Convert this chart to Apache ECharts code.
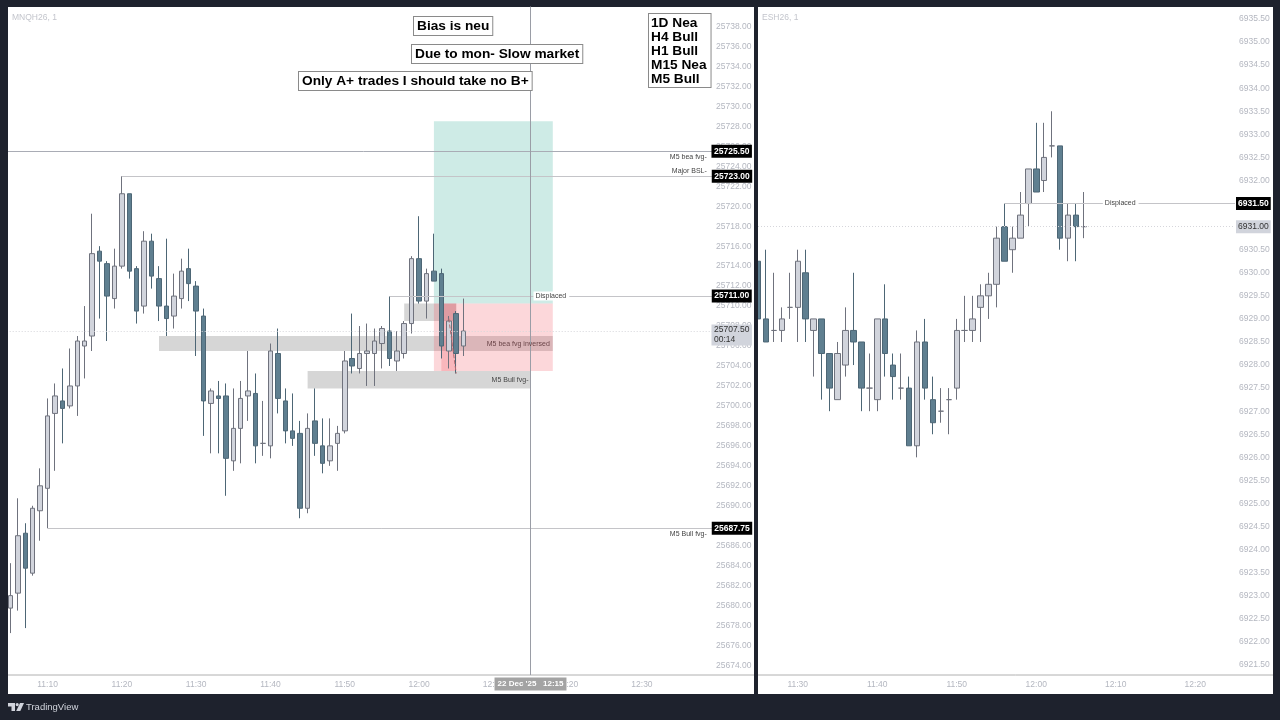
<!DOCTYPE html>
<html><head><meta charset="utf-8">
<style>html,body{margin:0;padding:0;background:#1e222d}#c{width:1280px;height:720px}</style>
<script src="https://cdn.jsdelivr.net/npm/echarts@6/dist/echarts.min.js"></script>
</head><body><div id="c"></div>
<script>
// MNQH26, 1 minute, from 11:05
const mnqOpen=[25679.75,25681.25,25687.25,25683.25,25689.5,25691.75,25699.25,25700.5,25700,25702,25706,25707,25715.5,25714.25,25710.75,25714,25721.25,25713.75,25710,25716.5,25712.75,25710,25709,25710.75,25713.75,25712,25709,25700.25,25701,25701,25694.5,25697.75,25701,25701.25,25696.25,25696,25705.25,25700.5,25697.5,25697.25,25689.75,25698.5,25696,25694.5,25696.25,25697.5,25704.75,25703.75,25705.25,25705.25,25706.25,25707.5,25704.5,25705.25,25708.25,25714.75,25710.5,25713.5,25713.25,25705.5,25709.25,25706];
const mnqClose=[25681,25687,25683.75,25689.75,25692,25699,25701,25699.75,25702,25706.5,25706.5,25715.25,25714.5,25711,25714,25721.25,25713.5,25709.5,25716.5,25713,25710,25708.75,25711,25713.5,25712.25,25709.5,25700.5,25701.5,25700.75,25694.75,25697.75,25700.75,25701.5,25696,25696.25,25705.5,25700.75,25697.5,25696.75,25689.75,25697.75,25696.25,25694.25,25696,25697.25,25704.5,25704,25705.25,25705.5,25706.5,25707.75,25704.75,25705.5,25708.25,25714.75,25710.5,25713.25,25712.5,25706,25708.5,25705.25,25707.5];
const mnqLow=[25677.25,25679.5,25677.75,25683,25686.5,25687.75,25693.5,25696.25,25699.75,25699,25702.75,25705.5,25708.75,25706.5,25709.75,25713.75,25712.75,25708.25,25709.25,25711.75,25708.5,25707,25707.75,25709.75,25710.5,25705,25697,25695.25,25695.25,25691,25693.5,25694.25,25698.5,25694.25,25695,25694.75,25699.25,25696.25,25696,25688.75,25689.25,25695,25693.25,25694,25693.5,25697.25,25703.25,25703.25,25702,25702,25703.75,25704,25703.5,25704.75,25707.25,25710.25,25708.75,25712.5,25704.75,25703.75,25703.25,25705];
const mnqHigh=[25684.25,25690.75,25688.25,25690,25693.75,25700.75,25702.25,25703.75,25705.75,25707,25710,25719.25,25716,25714.5,25715.75,25723,25721.25,25714,25717.5,25717.25,25714,25716.75,25713.25,25714.75,25715.75,25712.5,25709.75,25701.75,25702.5,25702.25,25701.75,25702.5,25705.5,25703.25,25700.5,25706.25,25707.75,25701.75,25701.25,25698.5,25699.25,25701.75,25698.75,25698.75,25698,25705.5,25709.25,25708,25708.25,25707.75,25708,25711,25707.5,25708.5,25715,25719,25713.75,25717.25,25713.75,25709,25709.5,25710.75];
// ESH26, 1 minute, from 11:25
const esOpen=[6930.25,6929,6928.75,6928.75,6929.25,6929.25,6930,6928.75,6929,6928.25,6927.25,6928,6928.75,6928.5,6927.5,6927.25,6929,6928,6927.5,6927.5,6926.25,6928.5,6927.25,6927,6927.25,6927.5,6928.75,6928.75,6929.25,6929.5,6929.75,6931,6930.5,6930.75,6931.5,6932.25,6932,6932.75,6932.75,6930.75,6931.25,6931];
const esClose=[6929,6928.5,6928.75,6929,6929.25,6930.25,6929,6929,6928.25,6927.5,6928.25,6928.75,6928.5,6927.5,6927.5,6929,6928.25,6927.75,6927.5,6926.25,6928.5,6927.5,6926.75,6927,6927.25,6928.75,6928.75,6929,6929.5,6929.75,6930.75,6930.25,6930.75,6931.25,6932.25,6931.75,6932.5,6932.75,6930.75,6931.25,6931,6931];
const esLow=[6928.5,6928.5,6928.5,6928.5,6929,6928.5,6928.5,6927.75,6927.25,6927,6927.25,6927.75,6928,6927,6927,6927,6927.75,6927.25,6927.25,6926.25,6926,6927.25,6926.5,6926.75,6926.5,6927.25,6928.5,6928.5,6928.5,6929,6929.25,6930.25,6930,6930.75,6931,6931.75,6931.75,6932.5,6930.5,6930.25,6930.25,6930.75];
const esHigh=[6930.5,6930.5,6930,6929.25,6930,6930.5,6930.5,6929,6929,6928.25,6928.5,6929.25,6930,6928.5,6928.25,6929,6929.75,6928.25,6928.25,6927.75,6928.75,6929,6927.75,6927.5,6927.5,6929,6929.5,6929.5,6929.75,6930,6931,6931.5,6931,6931.75,6932.25,6933.25,6933.25,6933.5,6932.75,6931.5,6931.5,6931.75];
const stateLines=['1D Nea','H4 Bull','H1 Bull','M15 Nea','M5 Bull'];

function times(startMin,n){const a=[];for(let i=0;i<n;i++){const m=startMin+i;a.push(Math.floor(m/60)+':'+String(m%60).padStart(2,'0'));}return a;}
const mnqCats=times(11*60+5,96), esCats=times(11*60+25,61);
const zip=(o,c,l,h)=>o.map((v,i)=>[v,c[i],l[i],h[i]]);

const FONT='"Liberation Sans",Arial,sans-serif', DARK='#1e222d', AX='#b4b7c0', LINE='#a9acb5';
const candleStyle={color:'#d1d4dc',color0:'#5f7f90',borderColor:'#6f727d',borderColor0:'#4d6675',borderColorDoji:'#6f727d',borderWidth:1};
const tag=(text,bg,fg,bold,distance,extra)=>Object.assign({show:true,formatter:text,position:'end',distance,backgroundColor:bg,color:fg,fontFamily:FONT,fontSize:8.5,fontWeight:bold?'bold':'normal',padding:[2,2.5,2,2.5]},extra||{});
const seg=(c0,v0,c1,v1,label,ls)=>[{xAxis:c0,yAxis:v0,label:label||{show:false},lineStyle:ls},{xAxis:c1,yAxis:v1}];
const full=(v,label,ls)=>({yAxis:v,label,lineStyle:ls});
const solid={color:LINE,width:1,type:'solid'}, pale={color:'#c4c4c8',width:1,type:'solid'};
const dotted={color:'#d6d6db',width:1,type:[1,2]};
const note=(cat,v,text,pos,dist,extra)=>({coord:[cat,v],symbolSize:0,label:Object.assign({show:true,formatter:text,position:pos,distance:dist,fontFamily:FONT,fontSize:7,color:'#444'},extra||{})});
const L=mnqCats[95], R=esCats[60];
const box=(a,b,c,d,color)=>[{xAxis:a,yAxis:b,itemStyle:{color}},{xAxis:c,yAxis:d}];
const GREY='rgba(120,120,120,0.3)', RED='rgba(242,54,69,0.2)';

const panel=(x,w,text)=>[{type:'rect',z:-1,silent:true,shape:{x,y:7,width:w,height:687},style:{fill:'#fff'}},
 {type:'text',z:-1,silent:true,style:{x:x+4,y:13,text,fill:'#c3c5cc',font:'8.5px '+FONT}},
 {type:'line',z:-1,silent:true,shape:{x1:x,y1:675,x2:x+w,y2:675},style:{stroke:'#b0b0b0',lineWidth:1}}];
const tbox=(x,y,text,pad)=>({type:'text',z:100,silent:true,style:{x,y,text,fill:'#000',font:'bold 13.7px '+FONT,lineHeight:14,backgroundColor:'#fff',borderColor:'#8a8a8a',borderWidth:1,padding:pad||[2,3,2,3]}});

const option={animation:false,backgroundColor:DARK,
 grid:[{left:6.69,top:6.53,width:713.28,height:678.97},{left:758,top:7.46,width:477,height:680.57}],
 xAxis:[
  {gridIndex:0,type:'category',data:mnqCats,boundaryGap:true,axisLine:{show:false},axisTick:{show:false},splitLine:{show:false},
   axisLabel:{margin:-5,color:AX,fontFamily:FONT,fontSize:8.5,interval:(i,v)=>v.endsWith('0')&&i<95}},
  {gridIndex:1,type:'category',data:esCats,boundaryGap:false,axisLine:{show:false},axisTick:{show:false},splitLine:{show:false},
   axisLabel:{margin:-7.5,color:AX,fontFamily:FONT,fontSize:8.5,interval:(i,v)=>v.endsWith('0')}}],
 yAxis:[
  {gridIndex:0,type:'value',position:'right',min:25672,max:25740,interval:2,axisLine:{show:false},axisTick:{show:false},splitLine:{show:false},
   axisLabel:{margin:-4,color:AX,fontFamily:FONT,fontSize:8.5,showMinLabel:false,showMaxLabel:false,formatter:v=>v.toFixed(2)}},
  {gridIndex:1,type:'value',position:'right',min:6921,max:6935.75,interval:0.5,axisLine:{show:false},axisTick:{show:false},splitLine:{show:false},
   axisLabel:{margin:4,color:AX,fontFamily:FONT,fontSize:8.5,showMinLabel:false,showMaxLabel:false,formatter:v=>v%0.5===0?v.toFixed(2):''}}],
 series:[
  {type:'candlestick',xAxisIndex:0,yAxisIndex:0,barWidth:5,data:zip(mnqOpen,mnqClose,mnqLow,mnqHigh),itemStyle:candleStyle,
   markArea:{silent:true,data:[
     box(mnqCats[20],25707,mnqCats[73],25705.5,GREY),
     box(mnqCats[40],25703.5,mnqCats[70],25701.75,GREY),
     box(mnqCats[53],25710.25,mnqCats[60],25708.5,GREY),
     box(mnqCats[57],25728.5,mnqCats[73],25710.25,'rgba(8,153,129,0.2)'),
     box(mnqCats[57],25710.25,mnqCats[73],25703.5,RED),
     box(mnqCats[58],25710.25,mnqCats[60],25703.5,RED)]},
   markLine:{silent:true,symbol:'none',label:{show:false},data:[
     full(25725.5,tag('25725.50','#000','#fff',true,-8.5),solid),
     seg(mnqCats[15],25723,L,25723,tag('25723.00','#000','#fff',true,-4.5),pale),
     seg(mnqCats[51],25711,L,25711,tag('25711.00','#000','#fff',true,-4.5),pale),
     seg(mnqCats[5],25687.75,L,25687.75,tag('25687.75','#000','#fff',true,-4.5),pale),
     full(25707.5,tag('25707.50\n00:14','#d1d4dc','#333',false,-8.5,{lineHeight:10,padding:[1,2.5,0,2.5],offset:[0,4]}),dotted),
     seg(mnqCats[70],25673.05,mnqCats[70],25740,null,{color:'#9a9da6',width:1,type:'solid'}),
     seg(mnqCats[59],25708.75,mnqCats[60],25703.25,null,{color:'#b06a70',width:1,type:'dashed'})]},
   markPoint:{silent:true,symbol:'circle',data:[
     note(mnqCats[94],25724.9,'M5 bea fvg-','left',2),
     note(mnqCats[94],25723.55,'Major BSL-','left',2),
     note(mnqCats[94],25687.15,'M5 Bull fvg-','left',2),
     note(mnqCats[70],25711,'Displaced','right',3,{backgroundColor:'#fff',padding:[1,3,1,2]}),
     note(mnqCats[73],25706.2,'M5 bea fvg inversed','left',3,{color:'#6a4448'}),
     note(mnqCats[70],25702.6,'M5 Bull fvg-','left',2),
     note(mnqCats[70],25672.15,"22 Dec '25   12:15",'inside',0,{color:'#fff',fontWeight:'bold',fontSize:8,backgroundColor:'#a3a3a3',padding:[3,3,2,3]})]}},
  {type:'candlestick',xAxisIndex:1,yAxisIndex:1,barWidth:6,data:zip(esOpen,esClose,esLow,esHigh),itemStyle:candleStyle,
   markLine:{silent:true,symbol:'none',label:{show:false},data:[
     seg(esCats[31],6931.5,R,6931.5,tag('6931.50','#000','#fff',true,1,{padding:[2,2,2,2]}),pale),
     seg(esCats[0],6931,R,6931,tag('6931.00','#d1d4dc','#333',false,1,{padding:[2,2,2,2]}),dotted)]},
   markPoint:{silent:true,symbol:'circle',data:[
     note(esCats[43],6931.5,'Displaced','right',3,{backgroundColor:'#fff',padding:[1,3,1,2]})]}}],
 graphic:[
  ...panel(8,746,'MNQH26, 1'),
  ...panel(758,515,'ESH26, 1'),
  {type:'rect',z:90,silent:true,shape:{x:754,y:0,width:4,height:720},style:{fill:DARK}},
  {type:'rect',z:90,silent:true,shape:{x:0,y:0,width:8,height:720},style:{fill:DARK}},
  tbox(414,17,'Bias is neu'),
  tbox(412,45,'Due to mon- Slow market'),
  tbox(299,72,'Only A+ trades I should take no B+'),
  tbox(649,14,stateLines.join('\n'),[2,4,1,2]),
  {type:'polygon',silent:true,shape:{points:[[7,703],[15,703],[15,711],[11.5,711],[11.5,706.5],[7,706.5]]},style:{fill:'#d1d4dc'}},
  {type:'circle',silent:true,shape:{cx:17.2,cy:704.6,r:1.6},style:{fill:'#d1d4dc'}},
  {type:'polygon',silent:true,shape:{points:[[20,703],[24,703],[20.3,711],[16.2,711]]},style:{fill:'#d1d4dc'}},
  {type:'text',silent:true,style:{x:26,y:702,text:'TradingView',fill:'#d1d4dc',font:'9.5px '+FONT}}]
};
const chart=echarts.init(document.getElementById('c'),null,{renderer:'canvas'});
chart.setOption(option);
</script></body></html>
